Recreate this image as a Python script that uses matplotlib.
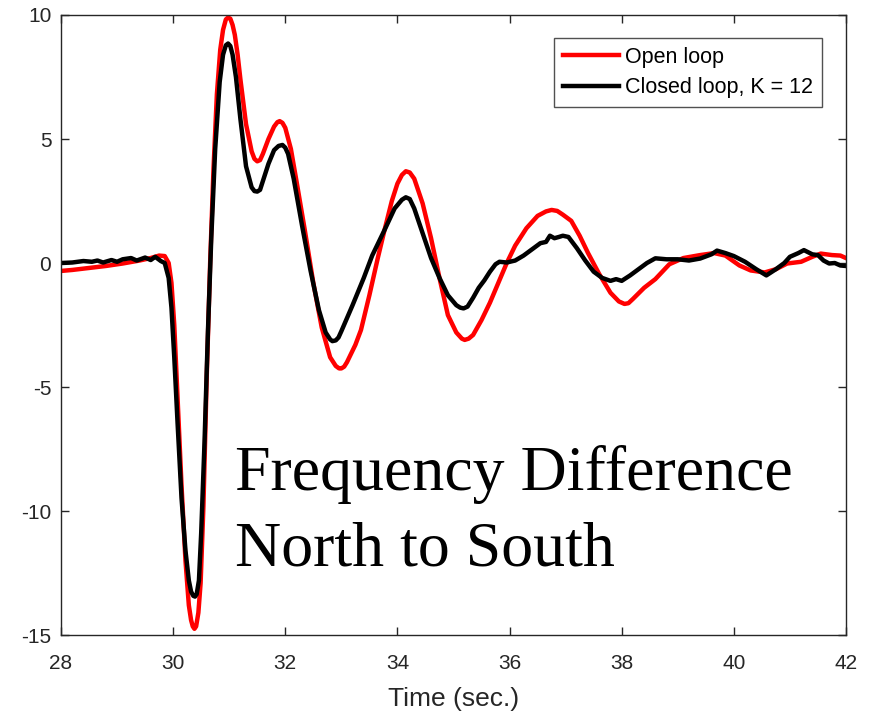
import matplotlib
matplotlib.use("Agg")
import matplotlib.pyplot as plt

# open loop (red)
t_open = [28.0, 28.2, 28.5, 28.8, 29.1, 29.4, 29.6, 29.75, 29.85, 29.92,
          29.97, 30.02, 30.08, 30.15, 30.22, 30.28, 30.32, 30.35, 30.38, 30.41,
          30.45, 30.49, 30.54, 30.60, 30.66, 30.72, 30.78, 30.84, 30.89, 30.94,
          30.98, 31.02, 31.06, 31.1, 31.15, 31.2, 31.3, 31.4, 31.45, 31.5,
          31.55, 31.6, 31.7, 31.8, 31.86, 31.9, 31.95, 32.0, 32.1,
          32.2, 32.35, 32.5, 32.65, 32.8, 32.9, 32.96, 33.0, 33.05, 33.1,
          33.25, 33.35, 33.5, 33.65, 33.77, 33.9, 34.0, 34.08, 34.15, 34.22,
          34.3, 34.45, 34.6, 34.75, 34.9, 35.05, 35.15, 35.2, 35.27, 35.35,
          35.5, 35.65, 35.8, 35.95, 36.1, 36.3, 36.5, 36.65, 36.75, 36.85,
          36.95, 37.1, 37.25, 37.4, 37.6, 37.8, 37.95, 38.05, 38.12, 38.2,
          38.4, 38.6, 38.85, 39.1, 39.4, 39.65, 39.85, 40.1, 40.3, 40.55,
          40.75, 40.95, 41.2, 41.4, 41.55, 41.75, 41.9, 42.0]
y_open = [-0.32, -0.28, -0.2, -0.12, -0.02, 0.1, 0.2, 0.3, 0.28, 0.0,
          -0.8, -2.5, -5.5, -9.0, -12.0, -13.8, -14.4, -14.65, -14.75, -14.65,
          -14.1, -12.9, -9.8, -4.5, 0.0, 3.8, 6.8, 8.6, 9.4, 9.82,
          9.9, 9.85, 9.6, 9.2, 8.4, 7.4, 5.6, 4.5, 4.2, 4.1,
          4.15, 4.4, 5.0, 5.5, 5.68, 5.72, 5.65, 5.45, 4.6,
          3.3, 1.3, -0.8, -2.6, -3.8, -4.15, -4.25, -4.25, -4.18, -4.0,
          -3.3, -2.7, -1.3, 0.2, 1.33, 2.5, 3.2, 3.55, 3.7, 3.65,
          3.4, 2.4, 1.0, -0.6, -2.1, -2.8, -3.05, -3.1, -3.05, -2.9,
          -2.3, -1.6, -0.8, 0.0, 0.7, 1.4, 1.9, 2.08, 2.14, 2.1,
          1.95, 1.7, 1.1, 0.4, -0.45, -1.2, -1.55, -1.65, -1.62, -1.45,
          -1.0, -0.65, -0.05, 0.2, 0.32, 0.4, 0.3, -0.1, -0.3, -0.38,
          -0.25, -0.02, 0.05, 0.25, 0.38, 0.32, 0.3, 0.2]

# closed loop, K = 12 (black)
t_closed = [28.0, 28.2, 28.4, 28.55, 28.65, 28.75, 28.9, 29.0, 29.1, 29.25,
            29.35, 29.5, 29.6, 29.68, 29.78, 29.85, 29.92, 29.97, 30.02, 30.08,
            30.15, 30.22, 30.28, 30.32, 30.36, 30.39, 30.42, 30.46, 30.5, 30.56,
            30.62, 30.68, 30.75, 30.83, 30.89, 30.94, 30.98, 31.02, 31.06, 31.12,
            31.2, 31.3, 31.4, 31.45, 31.5, 31.55, 31.6, 31.7, 31.8, 31.88,
            31.95, 32.0, 32.05, 32.15, 32.3, 32.45, 32.6, 32.72, 32.8, 32.84,
            32.9, 32.95, 33.0, 33.2, 33.4, 33.55, 33.77, 33.95, 34.08, 34.15,
            34.22, 34.3, 34.45, 34.6, 34.75, 34.9, 35.05, 35.12, 35.18, 35.25,
            35.35, 35.45, 35.55, 35.65, 35.75, 35.82, 35.95, 36.1, 36.25, 36.4,
            36.55, 36.65, 36.72, 36.8, 36.88, 36.95, 37.05, 37.2, 37.35, 37.5,
            37.65, 37.8, 37.9, 38.0, 38.15, 38.3, 38.45, 38.6, 38.8, 39.0,
            39.2, 39.4, 39.6, 39.7, 39.85, 40.0, 40.2, 40.4, 40.58, 40.75,
            40.9, 41.0, 41.15, 41.25, 41.4, 41.5, 41.6, 41.7, 41.8, 41.9, 42.0]
y_closed = [0.0, 0.02, 0.08, 0.05, 0.1, 0.02, 0.12, 0.05, 0.15, 0.2,
            0.1, 0.22, 0.12, 0.25, 0.08, 0.0, -0.6, -1.8, -3.8, -6.5,
            -9.5, -11.6, -12.8, -13.25, -13.42, -13.45, -13.35, -12.8, -10.9, -7.2,
            -2.8, 1.0, 4.6, 7.3, 8.4, 8.78, 8.85, 8.75, 8.4, 7.5,
            5.8, 3.9, 3.05, 2.9, 2.88, 2.95, 3.3, 4.0, 4.55, 4.72,
            4.76, 4.65, 4.4, 3.4, 1.5, -0.3, -1.9, -2.8, -3.08, -3.15,
            -3.12, -3.0, -2.75, -1.7, -0.6, 0.3, 1.33, 2.2, 2.55, 2.65,
            2.58, 2.2, 1.2, 0.2, -0.6, -1.3, -1.7, -1.8, -1.83, -1.76,
            -1.4, -1.0, -0.7, -0.35, -0.05, 0.05, 0.02, 0.1, 0.3, 0.55,
            0.8, 0.85, 1.1, 1.0, 1.05, 1.1, 1.05, 0.6, 0.1, -0.35,
            -0.6, -0.72, -0.65, -0.72, -0.5, -0.25, 0.0, 0.19, 0.15, 0.15,
            0.1, 0.18, 0.35, 0.5, 0.4, 0.28, 0.05, -0.25, -0.5, -0.25,
            0.0, 0.25, 0.4, 0.52, 0.35, 0.32, 0.1, -0.02, 0.0, -0.1, -0.12]

xticks = [28, 30, 32, 34, 36, 38, 40, 42]
yticks = [-15, -10, -5, 0, 5, 10]

plt.rcParams['font.family'] = ['Liberation Sans', 'DejaVu Sans']
plt.rcParams['axes.unicode_minus'] = False

fig = plt.figure(figsize=(8.69, 7.14), dpi=100)
ax = fig.add_axes([0.0702, 0.1106, 0.9033, 0.8684])

ax.plot(t_open, y_open, color='#ff0000', lw=3.2, label='Open loop')
ax.plot(t_closed, y_closed, color='black', lw=3.2, label='Closed loop, K = 12')

ax.set_xlim(28, 42)
ax.set_ylim(-15, 10)
ax.set_xticks(xticks)
ax.set_yticks(yticks)
ax.tick_params(direction='in', length=6, width=1, labelsize=15, colors='#262626',
               top=True, right=True)
ax.tick_params(axis='x', pad=14)
ax.tick_params(axis='y', pad=7)
for s in ax.spines.values():
    s.set_color('#262626')
    s.set_linewidth(1)

ax.set_xlabel('Time (sec.)', fontsize=19, color='#262626', labelpad=10)

leg = ax.legend(loc='upper right', bbox_to_anchor=(0.9694, 0.963), borderaxespad=0,
                fontsize=15.5, frameon=True, fancybox=False, handlelength=2.6,
                borderpad=0.4, labelspacing=0.45, handletextpad=0.3)
leg.get_frame().set_edgecolor('#262626')
leg.get_frame().set_linewidth(1)

ax.text(31.1, -9.15, 'Frequency Difference', family='Liberation Serif',
        fontsize=46, ha='left', va='baseline', color='black')
ax.text(31.1, -12.18, 'North to South', family='Liberation Serif',
        fontsize=46, ha='left', va='baseline', color='black')

fig.savefig('out.png', dpi=100)
